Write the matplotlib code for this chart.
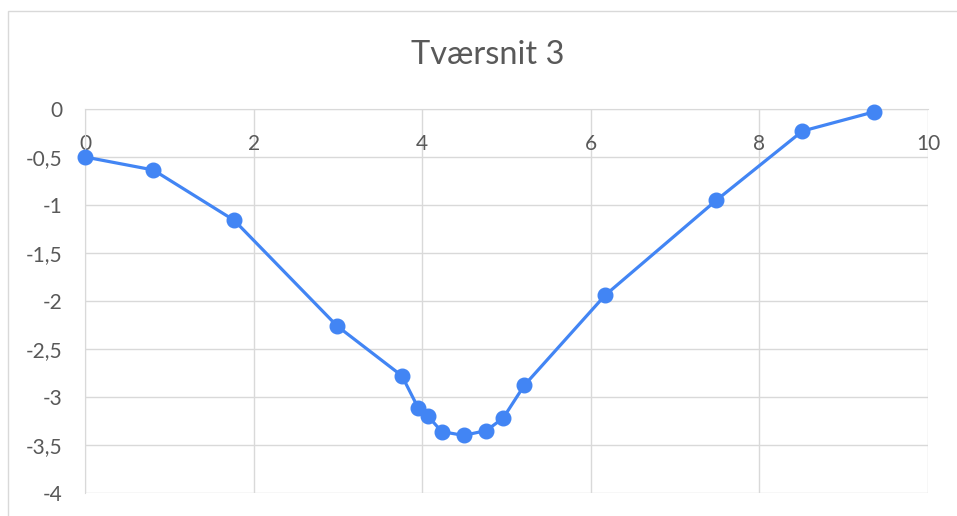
import matplotlib
matplotlib.use("Agg")
import matplotlib.pyplot as plt
import matplotlib.patches as mpatches
from matplotlib.ticker import FuncFormatter, MultipleLocator

plt.rcParams.update({
    "font.family": ["Lato", "DejaVu Sans"],
    "font.size": 14,
})

LINE_COLOR = "#4285F4"
GRID_COLOR = "#D9D9D9"
TEXT_COLOR = "#595959"

# Tværsnit 3 – afstand og dybde
afstand = [0, 0.81, 1.77, 2.99, 3.76, 3.95, 4.07, 4.23, 4.49, 4.76, 4.96, 5.21, 6.17, 7.49, 8.51, 9.36]
dybde = [-0.50, -0.635, -1.16, -2.26, -2.78, -3.11, -3.20, -3.36, -3.40, -3.35, -3.22, -2.88, -1.94, -0.95, -0.23, -0.03]

fig = plt.figure(figsize=(9.57, 5.16), dpi=100)
fig.patch.set_facecolor("white")

# chart area border (cropped at right and bottom)
fig.add_artist(mpatches.Rectangle((8 / 957, -0.1), 1.2, (516 - 11) / 516 + 0.1,
                                  transform=fig.transFigure, fill=False,
                                  edgecolor=GRID_COLOR, linewidth=1.0))

ax = fig.add_axes([85 / 957, (516 - 493) / 516, (928 - 85) / 957, (493 - 109) / 516])
ax.plot(afstand, dybde, color=LINE_COLOR, linewidth=2.3, marker="o",
        markersize=10.5, zorder=3, clip_on=False)

ax.set_xlim(0, 10)
ax.set_ylim(-4, 0)
ax.xaxis.set_major_locator(MultipleLocator(2))
ax.yaxis.set_major_locator(MultipleLocator(0.5))

fmt = FuncFormatter(lambda v, pos: f"{v:g}".replace(".", ","))
ax.xaxis.set_major_formatter(fmt)
ax.yaxis.set_major_formatter(fmt)

ax.grid(True, color=GRID_COLOR, linewidth=1.0, zorder=0)
ax.set_axisbelow(True)

for side in ["top", "right"]:
    ax.spines[side].set_visible(False)
ax.spines["bottom"].set_position(("data", 0))
ax.spines["bottom"].set_color(GRID_COLOR)
ax.spines["left"].set_color(GRID_COLOR)

ax.tick_params(axis="both", length=0, colors=TEXT_COLOR, labelsize=15)
ax.tick_params(axis="x", pad=18)
ax.tick_params(axis="y", pad=16)

fig.text(488 / 957, (516 - 55) / 516, "Tværsnit 3", ha="center", va="center",
         fontsize=23.5, color=TEXT_COLOR)

plt.savefig("out.png", dpi=100, facecolor="white")
plt.close()
